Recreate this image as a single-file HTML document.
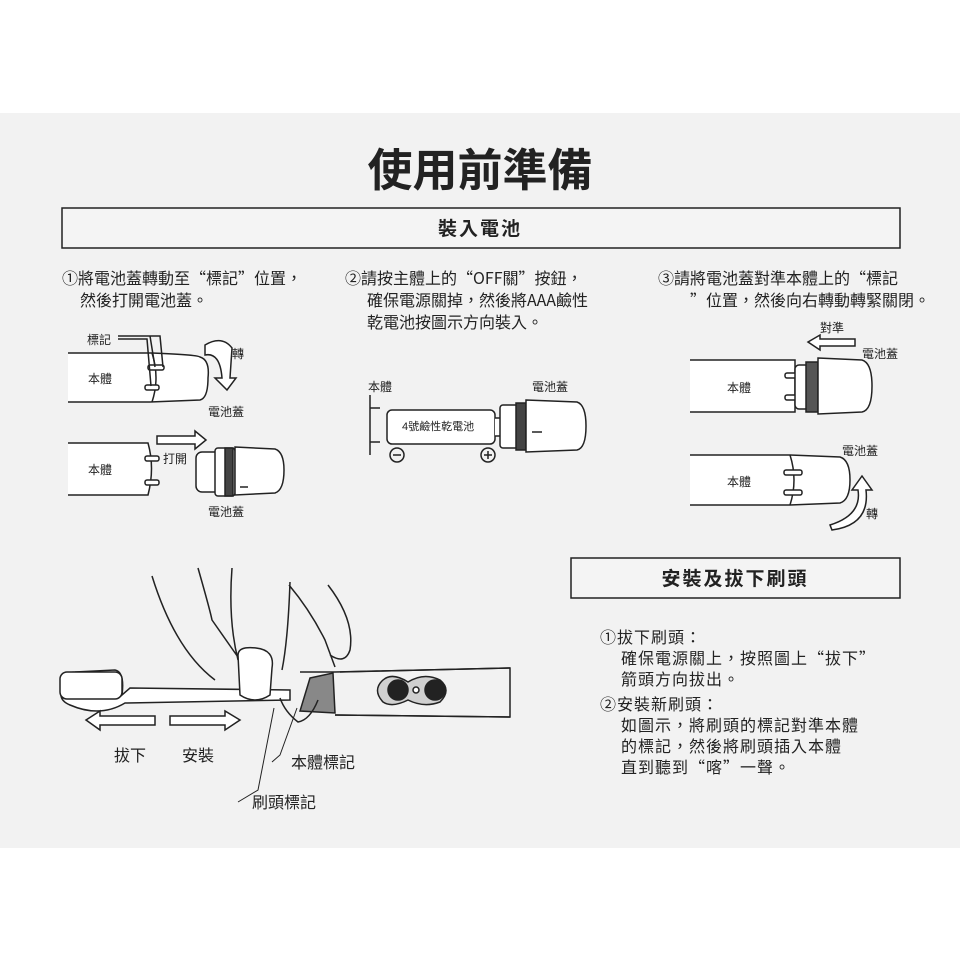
<!DOCTYPE html><html><head><meta charset="utf-8"><style>
body{margin:0;width:960px;height:960px;background:#fff;font-family:"Liberation Sans","Noto Sans CJK TC",sans-serif;}
svg{display:block}
</style></head><body>
<svg width="960" height="960" viewBox="0 0 960 960" xmlns="http://www.w3.org/2000/svg" font-family="Liberation Sans, Noto Sans CJK TC, sans-serif" fill="none" stroke="#222" stroke-width="1.5">
<rect x="0" y="113" width="960" height="735" fill="#f2f2f2" stroke="none"/>
<text x="480" y="186" text-anchor="middle" font-size="45" font-weight="bold" fill="#222" stroke="none" font-family="Noto Sans CJK TC, sans-serif">使用前準備</text>
<rect x="62" y="208" width="838" height="40" fill="#f4f4f4"/>
<text x="480" y="235" text-anchor="middle" font-size="19" font-weight="bold" fill="#222" stroke="none" letter-spacing="2">裝入電池</text>
<g fill="#222" stroke="none" font-size="16" font-family="Noto Sans CJK TC, sans-serif">
<text x="62" y="284">①將電池蓋轉動至“標記”位置，</text>
<text x="80" y="306">然後打開電池蓋。</text>
<text x="345" y="284">②請按主體上的“OFF關”按鈕，</text>
<text x="367" y="306">確保電源關掉，然後將AAA鹼性</text>
<text x="367" y="328">乾電池按圖示方向裝入。</text>
<text x="658" y="284">③請將電池蓋對準本體上的“標記</text>
<text x="690" y="306">”位置，然後向右轉動轉緊關閉。</text>
</g>
<g fill="#fff">
<path d="M68 353 L152 353 Q200 355 200 357 Q210 360 208 378 Q208 398 200 400 L150 402 L68 402"/>
</g>
<path d="M152 353 Q160 378 152 402"/>
<rect x="148" y="365" width="16" height="5" rx="2" fill="#fff"/>
<rect x="145" y="385" width="14" height="5" rx="2" fill="#fff"/>
<path d="M118 336 L150 336 L155 367 M118 339 L147 339 L151 386 M120 336 L160 336 L163 367"/>
<path d="M205 345 Q222 335 232 348 L230 378 L236 378 L227 390 L215 378 L222 378 Q220 352 205 355 Z" fill="#fff"/>
<path d="M68 443 L148 443 Q155 468 148 495 L68 495" fill="#fff"/>
<rect x="145" y="456" width="14" height="5" rx="2" fill="#fff"/><rect x="145" y="480" width="14" height="5" rx="2" fill="#fff"/>
<path d="M157 436 L195 436 L195 431 L206 440 L195 449 L195 444 L157 444 Z" fill="#fff"/>
<rect x="196" y="452" width="25" height="40" rx="6" fill="#fff"/>
<rect x="215" y="448" width="20" height="48" rx="3" fill="#fff"/>
<rect x="225" y="448" width="8" height="48" fill="#444"/>
<path d="M235 447 L275 449 Q284 452 284 470 Q284 490 275 493 L235 495 Z" fill="#fff"/>
<line x1="240" y1="487" x2="248" y2="487"/>
<path d="M370 395 L370 455 M370 408 L380 408 M370 442 L380 442"/>
<rect x="387" y="410" width="108" height="34" rx="5" fill="#fff"/>
<path d="M495 418 L502 418 L502 436 L495 436" fill="#fff"/>
<rect x="500" y="405" width="18" height="43" rx="3" fill="#fff"/>
<rect x="516" y="403" width="10" height="47" fill="#444"/>
<path d="M526 400 L577 402 Q586 405 586 426 Q586 448 577 450 L526 452 Z" fill="#fff"/>
<line x1="532" y1="432" x2="542" y2="432"/>
<circle cx="397" cy="455" r="7"/><line x1="393" y1="455" x2="401" y2="455"/>
<circle cx="488" cy="455" r="7"/><path d="M484 455 L492 455 M488 451 L488 459"/>
<path d="M808 342 L820 335 L820 339 L855 339 L855 346 L820 346 L820 350 Z" fill="#fff"/>
<path d="M690 360 L795 360 L795 412 L690 412" fill="#fff"/>
<rect x="785" y="373" width="18" height="5" rx="2" fill="#fff"/><rect x="785" y="395" width="18" height="5" rx="2" fill="#fff"/>
<rect x="795" y="365" width="14" height="44" rx="4" fill="#fff"/>
<rect x="806" y="362" width="12" height="50" fill="#555"/>
<path d="M818 358 L862 360 Q872 363 872 386 Q872 410 862 412 L818 414 Z" fill="#fff"/>
<path d="M690 455 L790 455 L840 457 Q850 460 850 480 Q850 500 840 503 L790 505 L690 505" fill="#fff"/>
<path d="M790 455 Q798 480 790 505"/>
<rect x="784" y="470" width="18" height="5" rx="2" fill="#fff"/><rect x="784" y="490" width="18" height="5" rx="2" fill="#fff"/>
<path d="M830 525 Q862 515 858 490 L852 490 L862 476 L872 490 L866 490 Q870 525 832 530 Z" fill="#fff"/>
<rect x="571" y="558" width="329" height="40" fill="#f4f4f4"/>
<text x="735" y="585" text-anchor="middle" font-size="19" font-weight="bold" fill="#222" stroke="none" letter-spacing="2">安裝及拔下刷頭</text>
<g fill="#222" stroke="none" font-size="16" letter-spacing="1" font-family="Noto Sans CJK TC, sans-serif">
<text x="600" y="643">①拔下刷頭：</text>
<text x="621" y="664">確保電源關上，按照圖上“拔下”</text>
<text x="621" y="685">箭頭方向拔出。</text>
<text x="600" y="710">②安裝新刷頭：</text>
<text x="621" y="731">如圖示，將刷頭的標記對準本體</text>
<text x="621" y="752">的標記，然後將刷頭插入本體</text>
<text x="621" y="773">直到聽到“喀”一聲。</text>
</g>
<path d="M300 672 L335 672 L510 668 M335 715 L510 717" />
<path d="M62 690 Q60 672 75 672 L115 670 Q125 672 122 695 L130 688 L290 690 L290 700 L125 703 Q100 718 70 705 Q58 700 62 690 Z" fill="#fff"/>
<rect x="60" y="672" width="62" height="27" rx="7" fill="#fff"/>
<path d="M310 678 L333 673 L335 713 L300 711 Z" fill="#888"/>
<path d="M340 672 L510 668 L510 717 L335 715" fill="none"/>
<path d="M383 680 Q392 672 408 682 Q424 672 440 680 Q452 690 440 702 Q424 708 408 700 Q392 708 383 702 Q372 690 383 680 Z" fill="#d0d0d0"/>
<circle cx="398" cy="690" r="10" fill="#222"/><circle cx="435" cy="690" r="10" fill="#222"/><circle cx="416" cy="690" r="3" fill="#fff"/>
<path d="M152 576 Q175 650 215 680 M198 568 Q210 610 212 620 L240 660 M232 568 Q228 620 238 660 M290 582 Q288 640 282 670 M289 585 Q310 610 325 640 L335 667 M328 585 Q355 620 350 650 Q345 665 330 655 M318 700 Q310 720 298 722 Q285 712 280 698"/>
<path d="M238 655 Q238 646 256 648 Q275 650 272 668 L270 695 Q255 705 240 695 Z" fill="#fff"/>
<path d="M86 720 L100 711 L100 716 L155 716 L155 725 L100 725 L100 730 Z" fill="#fff"/>
<path d="M170 716 L225 716 L225 711 L240 720 L225 730 L225 725 L170 725 Z" fill="#fff"/>
<path d="M274 708 L258 790 L238 802 M297 708 L280 755 L272 762" stroke-width="1"/>
<g fill="#222" stroke="none" font-size="12">
<text x="87" y="344">標記</text><text x="88" y="383">本體</text><text x="232" y="358">轉</text>
<text x="208" y="416">電池蓋</text><text x="88" y="474">本體</text><text x="163" y="463">打開</text><text x="208" y="516">電池蓋</text>
<text x="368" y="391">本體</text><text x="532" y="391">電池蓋</text><text x="402" y="430" font-size="11">4號鹼性乾電池</text>
<text x="820" y="332">對準</text><text x="862" y="358">電池蓋</text><text x="727" y="392">本體</text>
<text x="842" y="455">電池蓋</text><text x="727" y="486">本體</text><text x="866" y="518">轉</text>
</g>
<g fill="#222" stroke="none" font-size="16">
<text x="114" y="761">拔下</text><text x="182" y="761">安裝</text>
<text x="291" y="768">本體標記</text><text x="252" y="808">刷頭標記</text>
</g>
</svg>
</body></html>
